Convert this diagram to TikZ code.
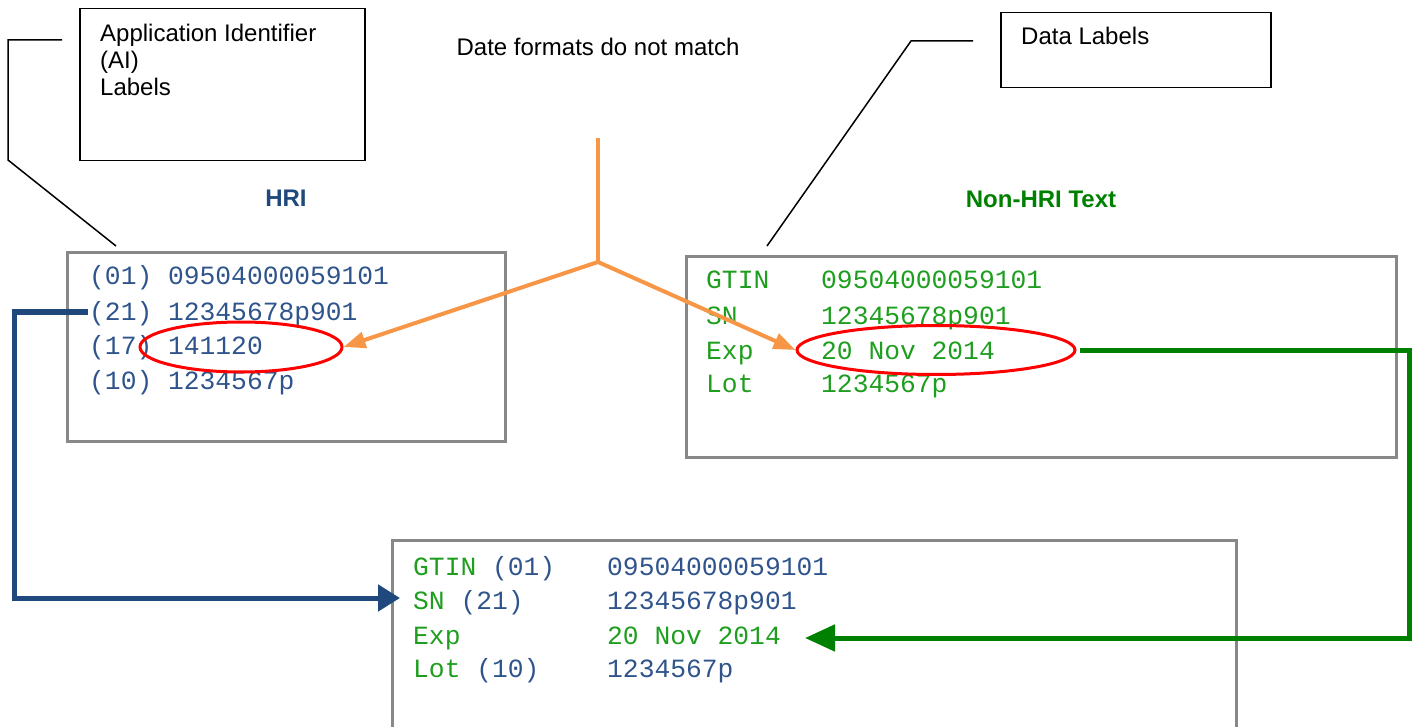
\documentclass[tikz,border=0pt]{standalone}
\usepackage{fontspec}
\setmainfont{Liberation Sans}
\setmonofont{Liberation Mono}
\usetikzlibrary{arrows.meta,shapes.geometric}
\definecolor{hriblue}{RGB}{31,73,125}
\definecolor{textblue}{RGB}{47,84,140}
\definecolor{textgreen}{RGB}{30,158,30}
\definecolor{darkgreen}{RGB}{0,128,0}
\definecolor{orangeline}{RGB}{247,150,70}
\definecolor{boxgray}{RGB}{136,136,136}
\begin{document}
\begin{tikzpicture}[x=1pt,y=-1pt,
  calloutbox/.style={draw=black,line width=1.5pt,inner sep=0pt,anchor=north west},
  databox/.style={draw=boxgray,line width=3pt,inner sep=0pt,anchor=north west},
  sanstext/.style={font=\fontsize{24}{27}\selectfont,inner sep=0pt,anchor=base west},
  headtext/.style={font=\fontsize{24}{27}\selectfont\bfseries,inner sep=0pt,anchor=base},
  monotext/.style={font=\ttfamily\fontsize{26.3}{30}\selectfont,inner sep=0pt,anchor=base west},
  callline/.style={draw=black,line width=1.5pt},
  redring/.style={draw=red,line width=3pt,ellipse,inner sep=0pt},
  orangearrow/.style={draw=orangeline,line width=4pt},
  otip/.style={-{Triangle[length=22pt,width=16pt]}},
]
\useasboundingbox (0,0) rectangle (1416,727);
\clip (0,0) rectangle (1416,727);

% callout boxes
\node[calloutbox,minimum width=285,minimum height=152] (aibox) at (79,8) {};
\node[sanstext] (ai1) at (100,42) {Application Identifier};
\node[sanstext] (ai2) at (100,69) {(AI)};
\node[sanstext] (ai3) at (100,96) {Labels};

\node[calloutbox,minimum width=270,minimum height=75] (dlbox) at (1000,12) {};
\node[sanstext] (dl) at (1021,45) {Data Labels};

\node[font=\fontsize{24}{27}\selectfont,inner sep=0pt,anchor=base] (datefmt) at (598,56) {Date formats do not match};

% headings
\node[headtext,text=hriblue] (hrihead) at (286,207) {HRI};
\node[headtext,text=darkgreen] (nonhead) at (1041,208) {Non-HRI Text};

% data boxes
\node[databox,minimum width=438,minimum height=189] (hribox) at (66,251) {};
\node[databox,minimum width=710,minimum height=201] (nonbox) at (685,255) {};
\draw[draw=boxgray,line width=3pt] (392,740) -- (392,540) -- (1236,540) -- (1236,740);
\coordinate (combtl) at (392,540);

% HRI text
\node[monotext,text=textblue] (h1) at (89,285) {(01) 09504000059101};
\node[monotext,text=textblue] (h2) at (89,320) {(21) 12345678p901};
\node[monotext,text=textblue] (h3) at (89,354) {(17) 141120};
\node[monotext,text=textblue] (h4) at (89,389) {(10) 1234567p};

% Non-HRI text
\node[monotext,text=textgreen] (n1l) at (706,289) {GTIN};
\node[monotext,text=textgreen] (n1v) at (821,289) {09504000059101};
\node[monotext,text=textgreen] (n2l) at (706,324) {SN};
\node[monotext,text=textgreen] (n2v) at (821,324) {12345678p901};
\node[monotext,text=textgreen] (n3l) at (706,359) {Exp};
\node[monotext,text=textgreen] (n3v) at (821,359) {20 Nov 2014};
\node[monotext,text=textgreen] (n4l) at (706,392) {Lot};
\node[monotext,text=textgreen] (n4v) at (821,392) {1234567p};

% combined text
\node[monotext,text=textblue] (c1l) at (413,575) {\textcolor{textgreen}{GTIN} (01)};
\node[monotext,text=textblue] (c1v) at (607,575) {09504000059101};
\node[monotext,text=textblue] (c2l) at (413,609) {\textcolor{textgreen}{SN} (21)};
\node[monotext,text=textblue] (c2v) at (607,609) {12345678p901};
\node[monotext,text=textgreen] (c3l) at (413,644) {Exp};
\node[monotext,text=textgreen] (c3v) at (607,644) {20 Nov 2014};
\node[monotext,text=textblue] (c4l) at (413,677) {\textcolor{textgreen}{Lot} (10)};
\node[monotext,text=textblue] (c4v) at (607,677) {1234567p};

% red ellipses
\node[redring,minimum width=202,minimum height=50] (e1) at (241,347) {};
\node[redring,minimum width=278,minimum height=49] (e2) at (936,350) {};

% callout lines
\coordinate (aiA) at (62,40);
\coordinate (aiB) at (8,40);
\coordinate (aiC) at (8,160);
\coordinate (aiD) at (116,246);
\draw[callline] (aiA) -- (aiB) -- (aiC) -- (aiD);
\coordinate (dlA) at (973,41);
\coordinate (dlB) at (911,41);
\coordinate (dlC) at (767,246);
\draw[callline] (dlA) -- (dlB) -- (dlC);

% orange arrows
\coordinate (otop) at (598,138);
\coordinate (ojunc) at (598,262);
\draw[orangearrow] (otop) -- (ojunc);
\draw[orangearrow,otip] (ojunc) -- (e1.east);
\draw[orangearrow,otip] (ojunc) -- (e2.west);

% blue connector
\coordinate (bstart) at (88,312);
\coordinate (bcorner) at (14,312);
\coordinate (btip) at (400,598);
\draw[draw=hriblue,line width=5pt,-{Triangle[length=22pt,width=26pt]}] (bstart) -- (bcorner) |- (btip);

% green connector
\coordinate (gstart) at (1080,350);
\coordinate (gcorner) at (1409,350);
\coordinate (gtip) at (805,638);
\draw[draw=darkgreen,line width=5pt,-{Triangle[length=30pt,width=26pt]}] (gstart) -- (gcorner) |- (gtip);
\end{tikzpicture}
\end{document}
